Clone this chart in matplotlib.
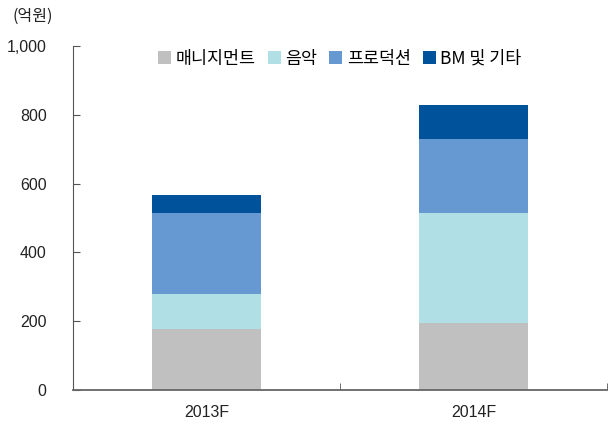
import matplotlib
matplotlib.use("Agg")
import matplotlib.pyplot as plt
import numpy as np

categories = ["2013F", "2014F"]
series_names = ["매니지먼트", "음악", "프로덕션", "BM 및 기타"]
management = [177, 195]
music = [102, 320]
production = [236, 215]
bm_other = [52, 98]
yticks = [0, 200, 400, 600, 800, 1000]
ytick_labels = ["0", "200", "400", "600", "800", "1,000"]
colors = ["#C0C0C0", "#B0DFE5", "#6699D1", "#00529B"]

plt.rcParams['font.family'] = ['Liberation Sans', 'Noto Sans CJK KR', 'DejaVu Sans']

fig = plt.figure(figsize=(6.16, 4.28), dpi=100)
ax = fig.add_axes([73/616, 38/428, 534/616, 344/428])

x = np.arange(len(categories))
bottom = np.zeros(len(categories))
for name, vals, c in zip(series_names, [management, music, production, bm_other], colors):
    ax.bar(x, vals, width=0.405, bottom=bottom, color=c, label=name, zorder=2)
    bottom += np.array(vals)

ax.set_xlim(-0.5, 1.5)
ax.set_ylim(0, 1000)
ax.set_yticks(yticks)
ax.set_yticklabels(ytick_labels, fontsize=11.5, color="#222222")
ax.tick_params(axis='y', direction='in', length=5, color="#555555", pad=19)
ax.set_xticks(x)
ax.set_xticklabels(categories, fontsize=11.5, color="#222222")
ax.tick_params(axis='x', length=0, pad=11)
ax.set_xticks([-0.5, 0.5, 1.5], minor=True)
ax.tick_params(axis='x', which='minor', direction='in', length=5, color="#555555")

for s in ['top', 'right']:
    ax.spines[s].set_visible(False)
ax.spines['left'].set_color("#555555")
ax.spines['bottom'].set_color("#666666")
ax.spines['bottom'].set_linewidth(1.3)

fig.text(13/616, 1 - 16/428, "(억원)", fontsize=11.5, color="#222222",
         family=['Noto Sans CJK KR', 'DejaVu Sans'], va='center', ha='left')

leg = ax.legend(loc='upper center', bbox_to_anchor=(0.5, 1.035), ncol=4, frameon=False,
                handlelength=0.75, handleheight=0.75, handletextpad=0.25, columnspacing=0.7,
                prop={'family': ['Noto Sans CJK KR', 'DejaVu Sans'], 'size': 12.5})

fig.savefig("out.png", dpi=100)
